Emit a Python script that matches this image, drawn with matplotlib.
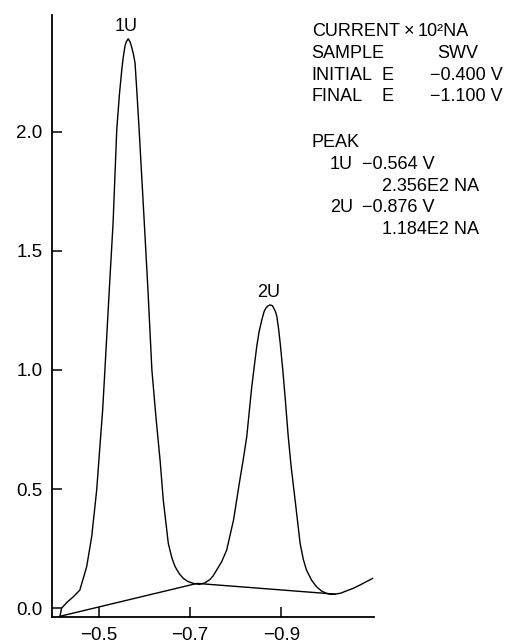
#! /usr/bin/env python3
import matplotlib
matplotlib.use('Agg')
import matplotlib.pyplot as plt

W, H = 506, 643

# square wave voltammogram, potential (V) vs current (x 10^2 nA)
volt = [-0.4145, -0.418, -0.430, -0.445, -0.458, -0.473, -0.484, -0.495,
        -0.502, -0.508, -0.513, -0.523, -0.531, -0.539, -0.545, -0.550,
        -0.553, -0.557, -0.560, -0.564, -0.568, -0.571, -0.575, -0.579,
        -0.583, -0.588, -0.599, -0.607, -0.616, -0.625, -0.634, -0.641,
        -0.652, -0.660, -0.667, -0.676, -0.685, -0.695, -0.707, -0.720,
        -0.732, -0.743, -0.750, -0.758, -0.769, -0.780, -0.795, -0.809,
        -0.816, -0.824, -0.835, -0.846, -0.851, -0.857, -0.862, -0.866,
        -0.870, -0.875, -0.880, -0.883, -0.887, -0.890, -0.894, -0.898,
        -0.903, -0.908, -0.915, -0.921, -0.930, -0.941, -0.948, -0.955,
        -0.966, -0.977, -0.988, -0.999, -1.008, -1.018, -1.030, -1.043,
        -1.057, -1.072, -1.085, -1.100]
curr = [-0.034, 0.000, 0.025, 0.050, 0.076, 0.174, 0.300, 0.496,
        0.678, 0.830, 1.000, 1.350, 1.620, 2.010, 2.160, 2.260,
        2.310, 2.360, 2.378, 2.390, 2.378, 2.360, 2.330, 2.290,
        2.170, 2.010, 1.630, 1.350, 1.000, 0.800, 0.620, 0.454,
        0.272, 0.210, 0.174, 0.145, 0.125, 0.112, 0.104, 0.100,
        0.106, 0.120, 0.135, 0.160, 0.195, 0.244, 0.370, 0.540,
        0.620, 0.720, 0.930, 1.100, 1.160, 1.210, 1.245, 1.260,
        1.268, 1.273, 1.270, 1.260, 1.245, 1.224, 1.170, 1.100,
        1.000, 0.888, 0.720, 0.600, 0.454, 0.272, 0.205, 0.160,
        0.118, 0.090, 0.072, 0.062, 0.058, 0.059, 0.063, 0.073,
        0.083, 0.097, 0.110, 0.125]

# baseline segments drawn under the peaks
base_v = [-0.4145, -0.715, -1.018]
base_i = [-0.034, 0.104, 0.059]

peak_names = ['1U', '2U']
peak_v = [-0.564, -0.876]
peak_i = [2.39, 1.273]

xticks = [-0.5, -0.7, -0.9]
xtick_labels = ['\u22120.5', '\u22120.7', '\u22120.9']
yticks = [0.0, 0.5, 1.0, 1.5, 2.0]
ytick_labels = ['0.0', '0.5', '1.0', '1.5', '2.0']

plt.rcParams['font.family'] = ['Liberation Sans', 'DejaVu Sans']

fig = plt.figure(figsize=(W / 100, H / 100), dpi=100)
ax = fig.add_axes([52 / W, 26 / H, 322 / W, 602 / H])

ax.plot(volt, curr, color='black', lw=1.0)
ax.plot(base_v, base_i, color='black', lw=1.0)

ax.set_xlim(-0.397, -1.103)
ax.set_ylim(-0.037, 2.49)
ax.spines['top'].set_visible(False)
ax.spines['right'].set_visible(False)
ax.spines['left'].set_linewidth(1.3)
ax.spines['bottom'].set_linewidth(1.3)
ax.set_xticks(xticks)
ax.set_xticklabels(xtick_labels)
ax.set_yticks(yticks)
ax.set_yticklabels(ytick_labels)
ax.tick_params(direction='in', length=7, width=1.1, labelsize=13.5, pad=7)

for name, v, i in zip(peak_names, peak_v, peak_i):
    ax.annotate(name, xy=(v, i), xytext=(-1.5, 3), textcoords='offset points',
                ha='center', va='bottom', fontsize=13)

def put(px, py, s):
    fig.text(px / W, 1 - py / H, s, ha='left', va='baseline', fontsize=13)

put(311.7, 36, 'CURRENT')
put(404, 36, '\u00d7')
put(418, 36, '10\u00b2NA')
put(311.7, 58, 'SAMPLE')
put(437, 58, 'SWV')
put(311.7, 80, 'INITIAL')
put(381.7, 80, 'E')
put(430, 80, '\u22120.400 V')
put(311.7, 101, 'FINAL')
put(381.7, 101, 'E')
put(430, 101, '\u22121.100 V')
put(311.7, 147, 'PEAK')
put(330, 169, '1U')
put(362, 169, '\u22120.564 V')
put(382, 191, '2.356E2 NA')
put(330, 212, '2U')
put(362, 212, '\u22120.876 V')
put(382, 234, '1.184E2 NA')

fig.savefig('out.png', dpi=100)
